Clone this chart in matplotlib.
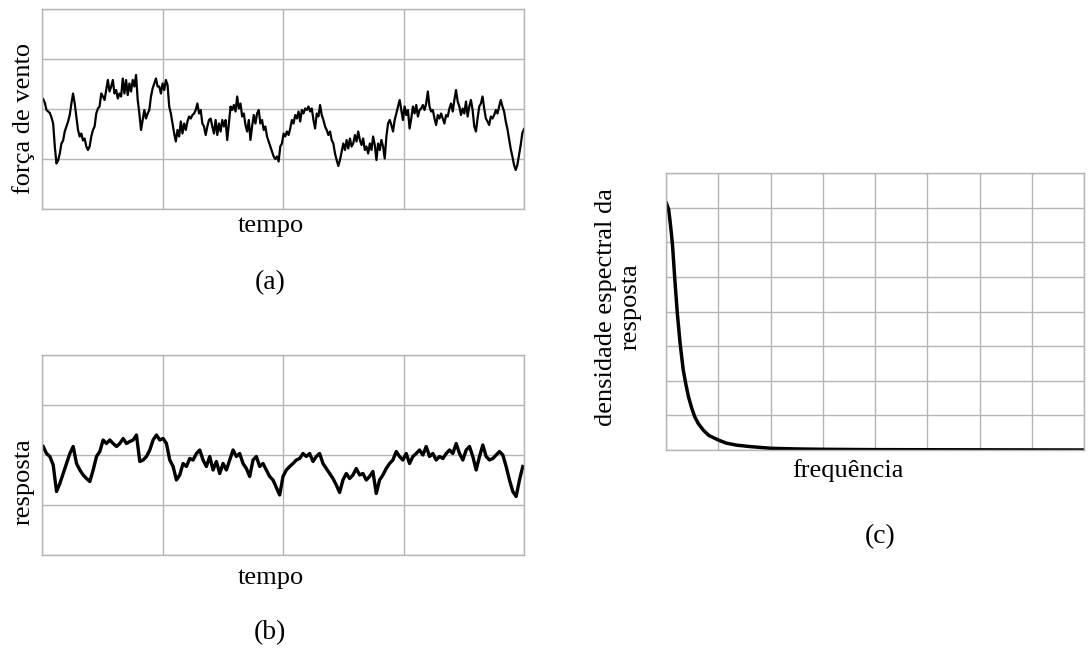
import numpy as np
import matplotlib
matplotlib.use("Agg")
import matplotlib.pyplot as plt

plt.rcParams["font.family"] = ["Liberation Serif", "DejaVu Serif"]

# ------------------------------------------------------------
# (a) wind force time series (grid units 0..4)
# ------------------------------------------------------------
forca = [
    2.20, 2.12, 1.98, 1.95, 1.92, 1.83, 1.71, 1.25, 0.91, 0.97,
    1.11, 1.31, 1.37, 1.55, 1.65, 1.75, 1.88, 2.11, 2.31, 2.11,
    1.85, 1.58, 1.45, 1.51, 1.37, 1.41, 1.25, 1.18, 1.25, 1.45,
    1.58, 1.65, 1.91, 2.01, 2.05, 2.31, 2.25, 2.18, 2.38, 2.58,
    2.35, 2.45, 2.58, 2.31, 2.38, 2.21, 2.31, 2.25, 2.61, 2.31,
    2.58, 2.28, 2.51, 2.35, 2.58, 2.45, 2.68, 2.18, 1.91, 1.58,
    1.78, 1.98, 1.81, 1.91, 1.98, 2.25, 2.41, 2.51, 2.61, 2.45,
    2.45, 2.31, 2.51, 2.38, 2.58, 2.48, 2.05, 1.91, 1.71, 1.51,
    1.35, 1.58, 1.45, 1.75, 1.51, 1.71, 1.58, 1.75, 1.85, 1.81,
    1.88, 1.91, 1.98, 2.11, 1.91, 1.98, 1.71, 1.65, 1.48, 1.65,
    1.78, 1.81, 1.65, 1.51, 1.78, 1.48, 1.71, 1.55, 1.78, 1.65,
    1.78, 1.38, 1.71, 2.05, 1.98, 2.08, 1.95, 2.25, 2.01, 2.11,
    1.85, 1.91, 1.68, 1.55, 1.78, 1.38, 1.65, 1.88, 1.71, 1.91,
    1.98, 1.71, 1.78, 1.58, 1.65, 1.45, 1.35, 1.25, 1.15, 1.05,
    1.00, 1.05, 0.95, 1.25, 1.31, 1.51, 1.45, 1.55, 1.48, 1.61,
    1.78, 1.71, 1.88, 1.81, 1.95, 1.75, 1.98, 1.91, 2.01, 1.98,
    2.05, 1.95, 2.01, 1.78, 1.61, 1.91, 1.85, 2.08, 1.88, 1.78,
    1.65, 1.58, 1.48, 1.55, 1.38, 1.31, 1.11, 0.98, 0.86, 0.98,
    1.15, 1.31, 1.18, 1.38, 1.21, 1.41, 1.25, 1.31, 1.48, 1.35,
    1.55, 1.38, 1.28, 1.41, 1.18, 1.25, 1.11, 1.31, 1.18, 1.45,
    1.28, 0.98, 1.31, 1.18, 1.38, 1.25, 1.01, 1.45, 1.71, 1.78,
    1.68, 1.55, 1.78, 1.91, 2.05, 2.18, 1.98, 1.78, 2.05, 1.88,
    1.98, 1.61, 1.81, 2.05, 1.91, 2.08, 1.85, 1.98, 2.01, 2.08,
    1.98, 2.11, 2.35, 2.05, 1.95, 1.98, 1.81, 1.68, 1.88, 1.81,
    1.91, 1.81, 1.71, 1.88, 1.85, 2.01, 2.11, 1.95, 2.18, 2.38,
    2.15, 2.05, 1.88, 2.01, 1.91, 2.15, 1.85, 2.05, 2.18, 1.98,
    1.65, 1.55, 1.81, 2.05, 2.11, 2.25, 2.01, 1.81, 1.75, 1.68,
    1.85, 1.81, 1.88, 1.98, 1.91, 2.05, 2.18, 2.05, 1.95, 1.75,
    1.60, 1.40, 1.20, 1.05, 0.88, 0.78, 0.88, 1.08, 1.28, 1.52,
    1.60,
]

# (b) structural response time series
resposta = [
    2.17, 2.03, 1.97, 1.80, 1.27, 1.43, 1.63, 1.83, 2.03, 2.17,
    1.83, 1.70, 1.60, 1.53, 1.47, 1.70, 1.97, 2.07, 2.30, 2.23,
    2.30, 2.23, 2.17, 2.23, 2.33, 2.23, 2.27, 2.30, 2.40, 1.87,
    1.90, 1.97, 2.10, 2.30, 2.40, 2.30, 2.33, 2.23, 1.90, 1.77,
    1.50, 1.60, 1.83, 1.77, 1.93, 1.90, 2.03, 2.10, 1.90, 1.77,
    1.97, 1.70, 1.87, 1.63, 1.83, 1.70, 1.90, 2.10, 1.97, 2.03,
    1.83, 1.73, 1.57, 1.90, 1.97, 1.77, 1.83, 1.70, 1.57, 1.50,
    1.35, 1.20, 1.57, 1.70, 1.77, 1.83, 1.90,
    1.93, 2.03, 1.97, 2.03, 1.87, 1.97, 2.03, 1.83, 1.73, 1.63,
    1.53, 1.40, 1.25, 1.50, 1.63, 1.53, 1.60, 1.73, 1.60, 1.63,
    1.50, 1.57, 1.67, 1.23, 1.50, 1.60, 1.73, 1.83, 1.90, 2.07,
    1.97, 1.90, 2.03, 1.83, 1.97, 2.03, 2.10, 2.00, 2.17, 1.97,
    2.03, 1.90, 1.97, 1.93, 2.03, 2.10, 2.03, 2.23, 2.03, 1.90,
    2.10, 2.17, 1.97, 1.70, 1.97, 2.20, 1.97, 1.90, 1.93, 2.00,
    2.07, 2.00, 1.77, 1.50, 1.27, 1.17, 1.50, 1.77,
]

# (c) response spectral density (grid units 0..8)
frequencia = [0.0, 0.05, 0.076, 0.1, 0.127, 0.17, 0.217, 0.27, 0.33, 0.38,
              0.43, 0.49, 0.55, 0.62, 0.71, 0.82, 1.0, 1.15, 1.35, 1.6,
              2.0, 2.5, 3.0, 4.0, 8.0]
densidade = [7.16, 6.95, 6.63, 6.3, 5.87, 4.9, 3.94, 3.08, 2.31, 1.9,
             1.54, 1.22, 0.96, 0.76, 0.58, 0.42, 0.29, 0.2, 0.14, 0.1,
             0.05, 0.03, 0.02, 0.01, 0.0]

GRID = "#b5b5b5"
FS = 19


def style_axes(ax, nx, ny):
    ax.set_xlim(0, nx)
    ax.set_ylim(0, ny)
    ax.set_xticks(np.arange(0, nx + 1))
    ax.set_yticks(np.arange(0, ny + 1))
    ax.tick_params(length=0, labelbottom=False, labelleft=False)
    ax.grid(True, color=GRID, linewidth=1.0)
    ax.set_axisbelow(True)
    for sp in ax.spines.values():
        sp.set_color(GRID)
        sp.set_linewidth(1.0)


W, H = 1089, 652
fig = plt.figure(figsize=(W / 100, H / 100), dpi=100)

# (a)
ax_a = fig.add_axes([42 / W, 1 - 209 / H, 482 / W, 200 / H])
t_a = np.linspace(0.01, 4.0, len(forca))
ax_a.plot(t_a, forca, color="black", linewidth=1.6)
style_axes(ax_a, 4, 4)

# (b)
ax_b = fig.add_axes([42 / W, 1 - 555 / H, 482 / W, 200 / H])
t_b = np.linspace(0.01, 3.99, len(resposta))
ax_b.plot(t_b, resposta, color="black", linewidth=2.4)
style_axes(ax_b, 4, 4)

# (c)
ax_c = fig.add_axes([666 / W, 1 - 450 / H, 418 / W, 277 / H])
ax_c.plot(frequencia, densidade, color="black", linewidth=2.5,
          solid_joinstyle="round", solid_capstyle="round")
style_axes(ax_c, 8, 8)

# labels
fig.text(271 / W, 1 - 226 / H, "tempo", ha="center", va="center", fontsize=FS)
fig.text(270 / W, 1 - 283 / H, "(a)", ha="center", va="center", fontsize=FS + 1)
fig.text(24 / W, 1 - 118 / H, "força de vento", ha="center", va="center",
         rotation=90, fontsize=FS)

fig.text(271 / W, 1 - 578 / H, "tempo", ha="center", va="center", fontsize=FS)
fig.text(270 / W, 1 - 633 / H, "(b)", ha="center", va="center", fontsize=FS + 1)
fig.text(24 / W, 1 - 482 / H, "resposta", ha="center", va="center",
         rotation=90, fontsize=FS)

fig.text(848 / W, 1 - 471 / H, "frequência", ha="center", va="center", fontsize=FS)
fig.text(880 / W, 1 - 537 / H, "(c)", ha="center", va="center", fontsize=FS + 1)
fig.text(618 / W, 1 - 307 / H, "densidade espectral da\nresposta", ha="center",
         va="center", rotation=90, fontsize=FS, multialignment="center",
         linespacing=1.15)

fig.savefig("out.png", dpi=100, facecolor="white")
